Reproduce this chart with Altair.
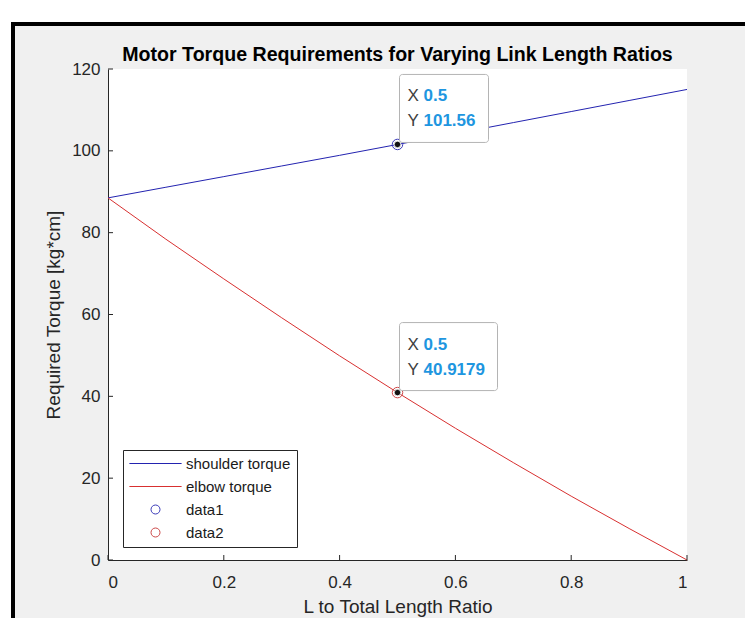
import altair as alt
import pandas as pd

# ---------------- data ----------------
ratio = [0.0, 0.1, 0.2, 0.3, 0.4, 0.5, 0.6, 0.7, 0.8, 0.9, 1.0]
shoulder_torque = [88.5, 91.1, 93.7, 96.3, 98.9, 101.56, 104.2, 106.9, 109.6, 112.3, 115.0]
elbow_torque = [88.5, 78.4, 68.7, 59.2, 49.9, 40.9179, 32.2, 23.8, 15.6, 7.7, 0.0]

series_names = ["shoulder torque", "elbow torque", "data1", "data2"]
series_colors = ["#2323b0", "#d83030", "#3a3ab8", "#cc4848"]
series_shapes = ["M-5.8,0H5.8", "M-5.8,0H5.8", "circle", "circle"]

tip_x = [0.5, 0.5]
tip_y = [101.56, 40.9179]
tip_label_x = ["0.5", "0.5"]
tip_label_y = ["101.56", "40.9179"]
tip_series = ["data1", "data2"]

x_ticks = [0, 0.2, 0.4, 0.6, 0.8, 1.0]
y_ticks = [0, 20, 40, 60, 80, 100, 120]

title_text = "Motor Torque Requirements for Varying Link Length Ratios"
x_title = "L to Total Length Ratio"
y_title = "Required Torque [kg*cm]"

# ---------------- layout ----------------
W, H = 579, 491
FONT = "Liberation Sans"
AX = "#262626"

lines_df = pd.DataFrame({
    "ratio": ratio + ratio,
    "torque": shoulder_torque + elbow_torque,
    "series": [series_names[0]] * len(ratio) + [series_names[1]] * len(ratio),
})
tips_df = pd.DataFrame({
    "ratio": tip_x,
    "torque": tip_y,
    "lx": tip_label_x,
    "ly": tip_label_y,
    "series": tip_series,
})
xt_df = pd.DataFrame({"ratio": x_ticks})
yt_df = pd.DataFrame({"torque": y_ticks})
one = pd.DataFrame({"a": [0]})

x_scale = alt.Scale(domain=[0, 1], nice=False, zero=False)
y_scale = alt.Scale(domain=[0, 120], nice=False)

x_enc = alt.X("ratio:Q", scale=x_scale,
              axis=alt.Axis(title=x_title, values=x_ticks, format="~g",
                            labelPadding=14, titleY=46, titleBaseline="middle"))
y_enc = alt.Y("torque:Q", scale=y_scale,
              axis=alt.Axis(title=y_title, values=y_ticks, labelPadding=8,
                            titleX=-55, titleY=H / 2, titleAngle=270,
                            titleBaseline="middle", titleAlign="center"))

legend_props = dict(title=None, orient="none", legendX=15, legendY=381,
                    padding=6, rowPadding=7, symbolSize=81,
                    symbolOffset=19, labelOffset=23,
                    symbolStrokeWidth=1, symbolFillColor="transparent",
                    strokeColor=AX, fillColor="white",
                    labelFont=FONT, labelFontSize=15,
                    labelColor="#1a1a1a", cornerRadius=0)

color_enc = alt.Color("series:N",
                      scale=alt.Scale(domain=series_names, range=series_colors),
                      legend=alt.Legend(**legend_props))
shape_enc = alt.Shape("series:N",
                      scale=alt.Scale(domain=series_names, range=series_shapes),
                      legend=alt.Legend(**legend_props))

# decorations: white strip above/left and black figure frame
white_top = alt.Chart(one).mark_rect(color="white").encode(
    x=alt.value(-100), x2=alt.value(W + 58), y=alt.value(-61), y2=alt.value(-47))
white_left = alt.Chart(one).mark_rect(color="white").encode(
    x=alt.value(-100), x2=alt.value(-97), y=alt.value(-61), y2=alt.value(H + 58))
frame_top = alt.Chart(one).mark_rect(color="black").encode(
    x=alt.value(-97), x2=alt.value(W + 58), y=alt.value(-47), y2=alt.value(-43))
frame_left = alt.Chart(one).mark_rect(color="black").encode(
    x=alt.value(-97), x2=alt.value(-93), y=alt.value(-47), y2=alt.value(H + 58))

lines = alt.Chart(lines_df).mark_line(strokeWidth=1).encode(
    x=x_enc, y=y_enc, color=color_enc, detail="series:N")

rings = alt.Chart(tips_df).mark_point(size=110, filled=False, strokeWidth=1, opacity=1).encode(
    x=x_enc, y=y_enc, color=color_enc, shape=shape_enc)

dots = alt.Chart(tips_df).mark_circle(size=42, color="#111111", opacity=1,
                                     stroke="#ffffff", strokeWidth=0.8).encode(x=x_enc, y=y_enc)

box_right = [91, 100]
boxes = []
for i, s in enumerate(tip_series):
    boxes.append(
        alt.Chart(tips_df).transform_filter(alt.datum.series == s).mark_rect(
            fill="white", stroke="#b4b4b4", strokeWidth=1, cornerRadius=3,
            xOffset=2, x2Offset=box_right[i], yOffset=-70, y2Offset=-2
        ).encode(x=x_enc, x2="ratio:Q", y=y_enc, y2="torque:Q")
    )

txt_common = dict(align="left", baseline="middle", font=FONT, fontSize=17)
tx_lab = alt.Chart(tips_df).mark_text(text="X", dx=10, dy=-48, color="#404040", **txt_common).encode(x=x_enc, y=y_enc)
ty_lab = alt.Chart(tips_df).mark_text(text="Y", dx=10, dy=-23, color="#404040", **txt_common).encode(x=x_enc, y=y_enc)
tx_val = alt.Chart(tips_df).mark_text(dx=26, dy=-48, color="#1e96e0", fontWeight="bold", **txt_common).encode(
    x=x_enc, y=y_enc, text="lx:N")
ty_val = alt.Chart(tips_df).mark_text(dx=26, dy=-23, color="#1e96e0", fontWeight="bold", **txt_common).encode(
    x=x_enc, y=y_enc, text="ly:N")

xticks = alt.Chart(xt_df).mark_rule(color=AX, strokeWidth=1).encode(
    x=x_enc, y=alt.value(H), y2=alt.value(H - 5))
yticks = alt.Chart(yt_df).mark_rule(color=AX, strokeWidth=1).encode(
    y=y_enc, x=alt.value(0), x2=alt.value(5))

chart = alt.layer(
    white_top, white_left, frame_top, frame_left,
    lines, rings, *boxes, dots, tx_lab, ty_lab, tx_val, ty_val, xticks, yticks
).properties(
    width=W, height=H,
    title=alt.TitleParams(title_text, anchor="middle", frame="group", offset=-73,
                          baseline="alphabetic", font=FONT, fontSize=19.6,
                          fontWeight="bold", color="black"),
    autosize=alt.AutoSizeParams(type="none"),
    padding={"left": 100, "top": 61, "right": 58, "bottom": 58},
    background="#f0f0f0",
).configure_view(
    stroke=None, fill="white"
).configure_axis(
    labelFont=FONT, labelFontSize=17, labelColor=AX,
    titleFont=FONT, titleFontSize=19, titleFontWeight="normal", titleColor=AX,
    domainColor=AX, domainWidth=1, ticks=False, tickSize=0, grid=False, zindex=1
)

chart.save("out.html", embed_options={"renderer": "svg", "actions": False})
